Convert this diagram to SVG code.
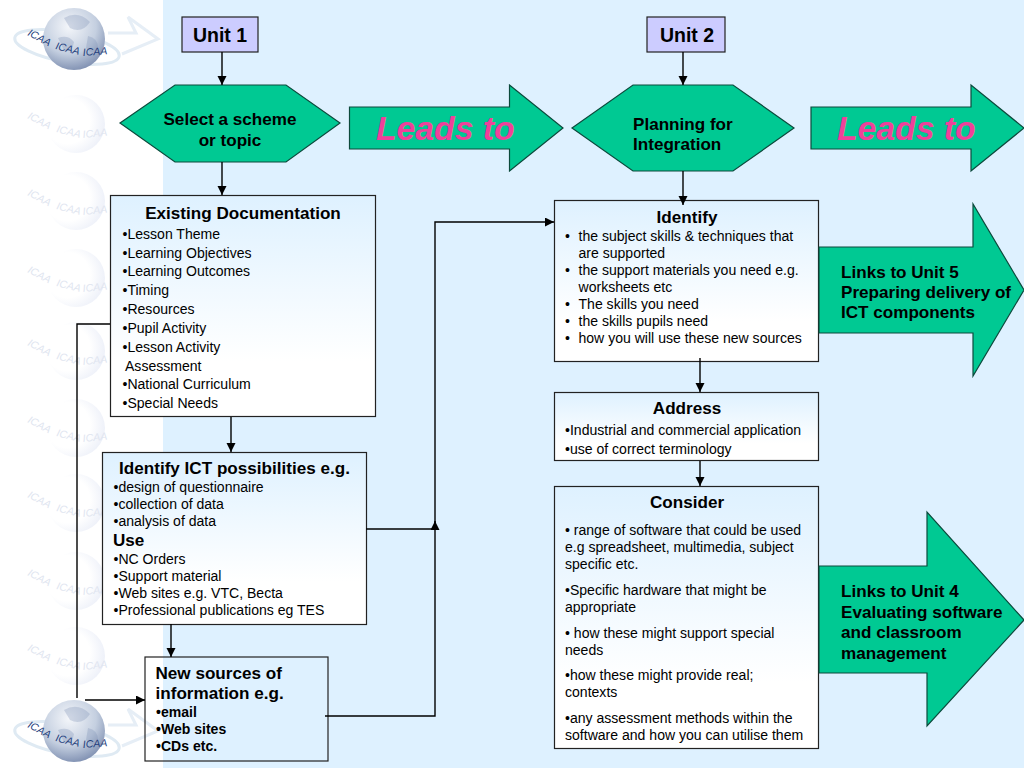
<svg xmlns="http://www.w3.org/2000/svg" width="1024" height="768" viewBox="0 0 1024 768">
<style>
text{font-family:"Liberation Sans",Arial,sans-serif;fill:#000}
.b{font-size:14.05px}
.bb{font-size:14.05px;font-weight:bold}
.h{font-size:17.1px;font-weight:bold}
.m{font-size:17.1px;font-weight:bold}
.c{text-anchor:middle}
.box{fill:url(#fade);stroke:#222;stroke-width:1.2}
.open{fill:none;stroke:#222;stroke-width:1.2}
.green{fill:#00C993;stroke:#0c4a3c;stroke-width:1.2}
.lead{font-size:33.7px;font-weight:bold;font-style:italic;fill:#F0409A}
.line{fill:none;stroke:#000;stroke-width:1.4}
.wm text{font-size:10.5px;font-style:italic;fill:#e0e5f0}
.lg text{font-size:10.5px;font-style:italic;fill:#24407c}
</style>
<defs>
<linearGradient id="fade" x1="0" y1="0" x2="0" y2="1"><stop offset="0" stop-color="#DEF1FF"/><stop offset="0.75" stop-color="#fff"/></linearGradient>
<marker id="a" markerWidth="10" markerHeight="10" refX="9" refY="4.500" orient="auto" markerUnits="userSpaceOnUse"><path d="M0 0L9 4.500L0 9z" fill="#000"/></marker>
<radialGradient id="g" cx="0.42" cy="0.3" r="0.8"><stop offset="0" stop-color="#f4f6fa"/><stop offset="0.55" stop-color="#c4cfe0"/><stop offset="1" stop-color="#6d7fa5"/></radialGradient>
<radialGradient id="gw" cx="0.35" cy="0.45" r="0.65"><stop offset="0.6" stop-color="#fff"/><stop offset="1" stop-color="#eef1f9"/></radialGradient>
<g id="wm" class="wm">
<circle cx="76" cy="36" r="29" fill="url(#gw)"/>
<text x="27" y="30" transform="rotate(28 27 30)">ICAA</text><text x="56" y="44" transform="rotate(14 56 44)">ICAA</text><text x="83" y="50" transform="rotate(-6 83 50)">ICAA</text>
</g>
<g id="lg" class="lg">
<path d="M108 33H136L128 17L158 39L122 54" fill="none" stroke="#e6eef6" stroke-width="3"/>
<ellipse cx="67" cy="47" rx="53" ry="15" fill="none" stroke="#dfeaf3" stroke-width="3" transform="rotate(10 67 47)"/>
<circle cx="74" cy="39" r="31" fill="url(#g)"/>
<path d="M64 18Q78 10 90 22Q82 34 70 28zM58 38Q68 34 74 42Q72 54 64 50zM88 36Q98 38 98 48Q92 56 86 48z" fill="#7c8fb2" opacity="0.3"/>
<text x="27" y="35" transform="rotate(28 27 35)">ICAA</text><text x="55" y="49" transform="rotate(14 55 49)">ICAA</text><text x="83" y="56" transform="rotate(-4 83 56)">ICAA</text>
</g>
</defs>
<rect width="1024" height="768" fill="#fff"/>
<rect x="163" width="861" height="768" fill="#DEF1FF"/>
<g id="watermarks">
<use href="#lg" x="0" y="0"/>
<use href="#wm" x="0" y="88"/><use href="#wm" x="0" y="165"/><use href="#wm" x="0" y="242"/><use href="#wm" x="0" y="315"/><use href="#wm" x="0" y="392"/><use href="#wm" x="0" y="467"/><use href="#wm" x="0" y="545"/><use href="#wm" x="0" y="620"/>
<use href="#lg" x="0" y="692"/>
</g>
<g id="unit1"><rect x="182" y="17" width="76" height="35" fill="#CCCCFF" stroke="#222" stroke-width="1.2"/><text x="220" y="42" class="c" font-size="19.5" font-weight="bold">Unit 1</text></g>
<g id="unit2"><rect x="647" y="17" width="78" height="35" fill="#CCCCFF" stroke="#222" stroke-width="1.2"/><text x="687" y="42" class="c" font-size="19.5" font-weight="bold">Unit 2</text></g>
<g id="select"><path class="green" d="M120 123L175 85H286L340 123L286 162H175z"/><text x="230" y="125" class="c m">Select a scheme</text><text x="230" y="146" class="c m">or topic</text></g>
<g id="planning"><path class="green" d="M572 128L633 85H733L794 128L733 171H633z"/><text x="633" y="130" class="m">Planning for</text><text x="633" y="150" class="m">Integration</text></g>
<g id="leads1"><path class="green" d="M349.500 107H509.500V85L563 128L509.500 171V149H349.500z"/><text x="376" y="140" class="lead">Leads to</text></g>
<g id="leads2"><path class="green" d="M811 107H971V85L1024 128L971 171V149H811z"/><text x="837" y="140" class="lead">Leads to</text></g>
<g id="existing"><rect class="box" x="110.500" y="195.500" width="265" height="221"/>
<text x="243" y="219" class="c h">Existing Documentation</text>
<g class="b"><text x="122.500" y="239">•Lesson Theme</text><text x="122.500" y="258">•Learning Objectives</text><text x="122.500" y="276">•Learning Outcomes</text><text x="122.500" y="295">•Timing</text><text x="122.500" y="314">•Resources</text><text x="122.500" y="333">•Pupil Activity</text><text x="122.500" y="352">•Lesson Activity</text><text x="125" y="371">Assessment</text><text x="122.500" y="389">•National Curriculum</text><text x="122.500" y="408">•Special Needs</text></g></g>
<g id="possibilities"><rect class="box" x="102.500" y="452.500" width="264" height="172"/>
<text x="234.500" y="474" class="c h">Identify ICT possibilities e.g.</text>
<g class="b"><text x="113.500" y="492">•design of questionnaire</text><text x="113.500" y="509">•collection of data</text><text x="113.500" y="526">•analysis of data</text></g>
<text x="113" y="546" class="h">Use</text>
<g class="b"><text x="113.500" y="564">•NC Orders</text><text x="113.500" y="581">•Support material</text><text x="113.500" y="598">•Web sites e.g. VTC, Becta</text><text x="113.500" y="615">•Professional publications eg TES</text></g></g>
<g id="newsources"><rect class="open" x="145" y="657" width="183" height="104"/>
<text x="155.500" y="679" class="h">New sources of</text><text x="155.500" y="699" class="h">information e.g.</text>
<text x="156" y="717" class="bb">•email</text><text x="156" y="734" class="bb">•Web sites</text><text x="156" y="751" class="bb">•CDs etc.</text></g>
<g id="identify"><rect class="box" x="554.500" y="200.500" width="264" height="161"/>
<text x="687" y="223" class="c h">Identify</text>
<g class="b"><text x="565" y="241">•</text><text x="578.500" y="241">the subject skills &amp; techniques that</text><text x="578.500" y="258">are supported</text><text x="565" y="275">•</text><text x="578.500" y="275">the support materials you need e.g.</text><text x="578.500" y="292">worksheets etc</text><text x="565" y="309">•</text><text x="578.500" y="309">The skills you need</text><text x="565" y="326">•</text><text x="578.500" y="326">the skills pupils need</text><text x="565" y="343">•</text><text x="578.500" y="343">how you will use these new sources</text></g></g>
<g id="address"><rect class="box" x="554.500" y="392.500" width="264" height="68"/>
<text x="687" y="414" class="c h">Address</text>
<text x="565" y="435" class="b">•Industrial and commercial application</text><text x="565" y="454" class="b">•use of correct terminology</text></g>
<g id="consider"><rect class="box" x="554.500" y="486.500" width="264" height="262"/>
<text x="687" y="508" class="c h">Consider</text>
<g class="b"><text x="565" y="535">• range of software that could be used</text><text x="565" y="552">e.g spreadsheet, multimedia, subject</text><text x="565" y="569">specific etc.</text>
<text x="565" y="595">•Specific hardware that might be</text><text x="565" y="612">appropriate</text>
<text x="565" y="638">• how these might support special</text><text x="565" y="655">needs</text>
<text x="565" y="680">•how these might provide real;</text><text x="565" y="697">contexts</text>
<text x="565" y="723">•any assessment methods within the</text><text x="565" y="740">software and how you can utilise them</text></g></g>
<g id="links5"><path class="green" d="M819 247H973V204L1024 290L973 376V333H819z"/>
<text x="841" y="278" class="m">Links to Unit 5</text><text x="841" y="298" class="m">Preparing delivery of</text><text x="841" y="318" class="m">ICT components</text></g>
<g id="links4"><path class="green" d="M819 566H927V512L1024 620L927 726V673H819z"/>
<text x="841" y="597" class="m">Links to Unit 4</text><text x="841" y="618" class="m">Evaluating software</text><text x="841" y="638" class="m">and classroom</text><text x="841" y="659" class="m">management</text></g>
<g id="connectors">
<path class="line" d="M222 52V85" marker-end="url(#a)"/>
<path class="line" d="M222 162V195" marker-end="url(#a)"/>
<path class="line" d="M683 52V85" marker-end="url(#a)"/>
<path class="line" d="M683 171V205" marker-end="url(#a)"/>
<path class="line" d="M231 417V452" marker-end="url(#a)"/>
<path class="line" d="M171 624V657" marker-end="url(#a)"/>
<path class="line" d="M700 358V392" marker-end="url(#a)"/>
<path class="line" d="M700 461V486" marker-end="url(#a)"/>
<path class="line" d="M110 324H77V698"/>
<path class="line" d="M85 700H145" marker-end="url(#a)"/>
<path class="line" d="M366 529H435"/>
<path class="line" d="M325 716H435V222H554" marker-end="url(#a)"/>
<path class="line" d="M435 530V521" marker-end="url(#a)"/>
</g>
</svg>
